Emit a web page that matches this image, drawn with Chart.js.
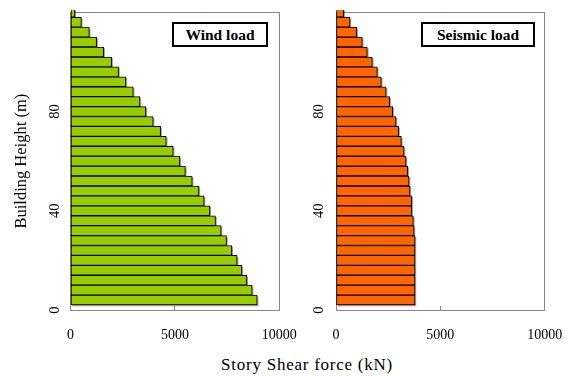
<!DOCTYPE html>
<html>
<head>
<meta charset="utf-8">
<script src="https://cdn.jsdelivr.net/npm/chart.js@4/dist/chart.umd.min.js"></script>
<style>
  html, body { margin: 0; padding: 0; background: #fff; }
  #wrap { position: relative; width: 573px; height: 376px; overflow: hidden;
          font-family: "Liberation Serif", "Times New Roman", serif; color: #000; }
  canvas { position: absolute; top: 0; }
  #windChart { left: 0; }
  #seismicChart { left: 290px; }
  .tag { position: absolute; top: 22px; height: 25px; box-sizing: border-box;
         border: 2px solid #000; background: #fff; font-weight: bold; font-size: 15.5px;
         display: flex; align-items: center; justify-content: center; }
  #windTag { left: 172px; width: 96px; }
  #seismicTag { left: 421px; width: 114px; }
  #xTitle { position: absolute; left: 0; width: 614px; top: 355px; line-height: 20px;
            text-align: center; font-size: 17px; letter-spacing: 0.75px; }
</style>
</head>
<body>
<div id="wrap">
  <canvas id="windChart" width="310" height="345"></canvas>
  <canvas id="seismicChart" width="283" height="345"></canvas>
  <div class="tag" id="windTag">Wind load</div>
  <div class="tag" id="seismicTag">Seismic load</div>
  <div id="xTitle">Story Shear force (kN)</div>
</div>
<script>
// Storey levels (m) and storey shear (kN) under each load case
const heights = [4, 8, 12, 16, 20, 24, 28, 32, 36, 40, 44, 48, 52, 56, 60,
                 64, 68, 72, 76, 80, 84, 88, 92, 96, 100, 104, 108, 112, 116, 120];
const windShear = [8940, 8700, 8445, 8205, 7980, 7725, 7470, 7215, 6945, 6675,
                   6400, 6150, 5830, 5500, 5240, 4920, 4585, 4315, 3960, 3610,
                   3325, 3005, 2655, 2300, 1970, 1590, 1250, 900, 520, 210];
const seismicShear = [3785, 3785, 3785, 3785, 3785, 3785, 3785, 3740, 3705, 3625,
                      3625, 3545, 3500, 3435, 3355, 3260, 3130, 3000, 2875, 2715,
                      2570, 2400, 2170, 1980, 1740, 1500, 1260, 990, 670, 370];
const shearTicks = [0, 5000, 10000];
const heightTicks = [0, 40, 80];

const SERIF = '"Liberation Serif", "Times New Roman", serif';
const AXIS_GREY = '#878787';
const align = p => Math.round(p - 0.5) + 0.5;

// Grey frame around the plot area
const framePlugin = {
  id: 'frame',
  beforeDatasetsDraw(chart) {
    const { ctx, chartArea: a } = chart;
    ctx.save();
    ctx.strokeStyle = AXIS_GREY;
    ctx.lineWidth = 1;
    const l = align(a.left), t = align(a.top), r = align(a.right), b = align(a.bottom);
    ctx.strokeRect(l, t, r - l, b - t);
    ctx.restore();
  }
};

// Soft drop shadow under each bar
const shadowPlugin = {
  id: 'barShadow',
  beforeDatasetsDraw(chart, args, opts) {
    const { ctx, chartArea: a } = chart;
    ctx.save();
    ctx.beginPath();
    ctx.rect(a.left, a.top - 2, a.right - a.left + 4, a.bottom - a.top + 2);
    ctx.clip();
    ctx.fillStyle = opts.color;
    chart.getDatasetMeta(0).data.forEach(bar => {
      const { x, y, base, height } = bar.getProps(['x', 'y', 'base', 'height'], true);
      ctx.fillRect(base + opts.dx, y - height / 2 + opts.dy, x - base, height);
    });
    ctx.restore();
  }
};

// Vertical (rotated) height tick labels
const heightLabelPlugin = {
  id: 'heightLabels',
  afterDraw(chart, args, opts) {
    const { ctx } = chart;
    const scale = chart.scales.y;
    ctx.save();
    ctx.font = `${opts.size}px ${SERIF}`;
    ctx.fillStyle = '#000';
    ctx.textAlign = 'center';
    ctx.textBaseline = 'middle';
    scale.ticks.forEach(t => {
      ctx.save();
      ctx.translate(scale.right - opts.gap, scale.getPixelForValue(t.value));
      ctx.rotate(-Math.PI / 2);
      ctx.fillText(String(t.value), 0, 0);
      ctx.restore();
    });
    ctx.restore();
  }
};

function buildPanel(canvasId, values, fill, panel) {
  return new Chart(document.getElementById(canvasId), {
    type: 'bar',
    data: {
      datasets: [{
        data: heights.map((h, i) => ({ x: values[i], y: h })),
        backgroundColor: fill,
        borderColor: '#000',
        borderWidth: 1,
        borderSkipped: false,
        barPercentage: 1,
        categoryPercentage: 1,
        clip: { left: 1, top: 2, right: 2, bottom: 0 }
      }]
    },
    plugins: [framePlugin, shadowPlugin, heightLabelPlugin],
    options: {
      indexAxis: 'y',
      responsive: false,
      animation: false,
      events: [],
      layout: { padding: { left: 0, top: 12.3, right: panel.padRight, bottom: 0 } },
      plugins: {
        legend: { display: false },
        tooltip: { enabled: false },
        barShadow: { color: 'rgba(0,0,0,0.4)', dx: 1.2, dy: 1.2 },
        heightLabels: { size: 14.5, gap: panel.labelGap }
      },
      scales: {
        x: {
          type: 'linear', position: 'bottom', min: 0, max: 10000, offset: false,
          afterBuildTicks: s => { s.ticks = shearTicks.map(v => ({ value: v })); },
          afterFit: s => { s.height = 35; s.paddingLeft = 0; s.paddingRight = 0; },
          ticks: { autoSkip: false, maxRotation: 0, color: '#000',
                   font: { family: SERIF, size: 14 }, padding: 21,
                   callback: v => String(v) },
          grid: { drawOnChartArea: false, offset: false, tickLength: -4, color: AXIS_GREY },
          border: { color: AXIS_GREY }
        },
        y: {
          type: 'linear', position: 'left', min: 0, max: 120, offset: false,
          afterBuildTicks: s => { s.ticks = heightTicks.map(v => ({ value: v })); },
          afterFit: s => { s.width = panel.axisWidth; },
          ticks: { display: false },
          grid: { drawOnChartArea: false, offset: false, tickLength: -4, color: AXIS_GREY },
          border: { color: AXIS_GREY },
          title: panel.title
            ? { display: true, text: panel.title, color: '#000',
                font: { family: SERIF, size: 16.5 }, padding: { top: 12, bottom: 0 } }
            : { display: false }
        }
      }
    }
  });
}

buildPanel('windChart', windShear, '#99CC00',
  { axisWidth: 70.5, padRight: 30.7, labelGap: 15, title: 'Building Height (m)' });
buildPanel('seismicChart', seismicShear, '#FF6600',
  { axisWidth: 46, padRight: 28.3, labelGap: 16.5, title: null });
</script>
</body>
</html>
